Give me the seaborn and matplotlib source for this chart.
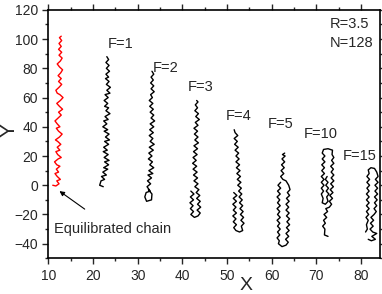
import matplotlib
matplotlib.use("Agg")
import matplotlib.pyplot as plt
from matplotlib.ticker import MultipleLocator
import pandas as pd
import seaborn as sns

# chain conformations, (x, y) per bead
chain_eq = [(11.0, 0), (11.7, -0.5), (12.4, 1), (11.9, 3), (12.7, 4), (12.0, 6), (11.5, 8), (12.3, 9),
            (11.8, 11), (12.6, 13), (11.9, 14), (11.4, 16), (12.2, 18), (12.9, 19), (12.1, 21), (11.7, 23),
            (12.6, 24), (12.0, 26), (12.8, 28), (12.1, 30), (11.6, 31), (12.5, 33), (13.1, 35), (12.3, 37),
            (11.8, 39), (12.6, 40), (12.0, 42), (11.5, 44), (12.2, 46), (12.9, 48), (12.3, 50), (13.2, 52),
            (12.5, 54), (11.9, 56), (12.7, 58), (13.3, 60), (12.6, 62), (12.0, 63), (11.7, 65), (12.4, 67),
            (13.0, 69), (12.3, 71), (12.9, 73), (12.2, 75), (12.8, 77), (13.2, 79), (12.5, 81), (12.0, 83),
            (12.7, 85), (13.1, 87), (12.4, 89), (13.0, 91), (12.3, 93), (12.9, 95), (12.4, 97), (13.0, 99),
            (12.5, 101), (12.9, 102)]
chain_f1 = [(22.3, -1), (21.5, 0), (21.8, 3), (22.6, 4), (21.9, 6), (23.0, 7), (22.2, 9), (23.3, 11),
            (22.4, 12), (23.5, 14), (22.6, 16), (23.6, 17), (22.5, 19), (23.4, 21), (22.3, 23), (23.2, 24),
            (22.4, 26), (23.5, 28), (22.6, 30), (23.7, 31), (22.8, 33), (23.6, 35), (22.5, 37), (23.3, 38),
            (22.2, 40), (23.1, 42), (22.4, 44), (23.4, 45), (22.7, 47), (23.8, 49), (22.9, 51), (23.5, 53),
            (22.6, 54), (23.3, 56), (22.5, 58), (23.4, 60), (22.7, 62), (23.8, 63), (23.1, 65), (23.9, 67),
            (23.0, 69), (23.6, 71), (22.8, 73), (23.5, 74), (22.9, 76), (23.7, 78), (23.0, 80), (23.6, 82),
            (22.9, 84), (23.5, 86), (23.1, 88)]
chain_f2 = [(32.4, -3), (33.2, -6), (33.1, -10), (32.0, -11), (31.6, -8), (31.9, -5), (32.8, -4), (32.1, -1),
            (32.9, 1), (32.2, 3), (33.1, 5), (32.3, 7), (33.4, 8), (32.5, 10), (33.6, 12), (32.7, 14),
            (33.3, 16), (32.4, 18), (33.2, 20), (32.5, 22), (33.5, 24), (32.6, 26), (33.7, 28), (32.8, 30),
            (33.4, 32), (32.6, 34), (33.5, 36), (32.7, 38), (33.6, 40), (32.8, 42), (33.8, 44), (33.0, 46),
            (33.6, 48), (32.8, 50), (33.5, 52), (32.7, 54), (33.4, 56), (32.6, 58), (33.3, 60), (32.9, 62),
            (33.7, 64), (33.0, 66), (33.6, 68), (32.9, 70), (33.5, 72), (33.0, 74), (33.6, 76), (33.2, 78)]
chain_f3 = [(41.9, -4), (42.6, -6), (41.8, -8), (42.5, -10), (41.7, -12), (42.4, -14), (41.8, -16), (42.5, -18),
            (41.9, -20), (42.7, -22), (43.5, -21), (44.0, -19), (43.3, -17), (44.1, -15), (43.4, -13), (44.0, -11),
            (43.2, -9), (43.9, -7), (43.1, -5), (43.7, -3), (42.8, -1), (43.5, 1), (42.6, 3), (43.4, 5),
            (42.5, 7), (43.3, 9), (42.4, 11), (43.2, 13), (42.3, 15), (43.1, 17), (42.4, 19), (43.3, 21),
            (42.5, 23), (43.4, 25), (42.6, 27), (43.6, 29), (42.8, 31), (43.5, 33), (42.7, 35), (43.4, 37),
            (42.6, 39), (43.5, 41), (42.9, 43), (43.8, 45), (43.0, 47), (43.6, 49), (42.8, 51), (43.4, 53),
            (42.9, 55), (43.5, 57), (43.2, 58)]
chain_f4 = [(51.5, -5), (52.2, -7), (51.4, -9), (52.1, -11), (51.3, -13), (52.0, -15), (51.4, -17), (52.1, -19),
            (51.3, -21), (52.0, -23), (51.4, -25), (52.1, -27), (51.5, -29), (52.0, -31), (52.8, -32), (53.5, -31),
            (53.2, -28), (53.8, -26), (53.1, -24), (53.7, -22), (53.0, -20), (53.6, -18), (52.9, -16), (53.5, -14),
            (52.8, -12), (53.4, -10), (52.7, -8), (53.3, -6), (52.6, -4), (53.2, -2), (52.4, 0), (53.1, 2),
            (52.3, 4), (53.0, 6), (52.2, 8), (52.9, 10), (52.1, 12), (52.8, 14), (52.0, 16), (52.7, 18),
            (52.0, 20), (52.6, 22), (51.8, 24), (52.5, 26), (51.7, 28), (52.3, 30), (51.6, 32), (52.4, 34),
            (51.8, 36), (51.6, 38)]
chain_f5 = [(62.0, 2), (61.4, 0), (62.0, -2), (61.3, -4), (61.9, -6), (61.2, -8), (61.8, -10), (61.3, -12),
            (61.9, -14), (61.2, -16), (61.8, -18), (61.3, -20), (61.9, -22), (61.2, -24), (61.8, -26), (61.3, -28),
            (61.9, -30), (61.3, -32), (61.8, -34), (61.2, -36), (61.7, -38), (61.5, -40), (62.3, -42), (63.2, -41),
            (63.7, -39), (63.1, -37), (63.8, -35), (63.2, -33), (63.9, -31), (63.3, -29), (64.0, -27), (63.4, -25),
            (64.0, -23), (63.3, -21), (63.9, -19), (63.2, -17), (63.8, -15), (63.2, -13), (63.9, -11), (63.3, -9),
            (64.0, -7), (63.5, -5), (64.1, -3), (63.8, 0), (63.2, 3), (62.5, 4), (62.0, 6), (62.7, 8),
            (62.1, 10), (62.8, 12), (62.2, 14), (62.9, 16), (62.3, 18), (63.0, 20), (62.4, 21), (62.9, 22)]
chain_f10 = [(72.6, -35), (71.8, -34), (71.9, -30), (71.4, -28), (72.0, -26), (71.6, -24), (72.3, -22), (71.7, -20),
             (72.5, -18), (72.1, -16), (72.9, -15), (73.4, -13), (72.9, -11), (73.6, -9), (73.0, -7), (73.7, -5),
             (73.1, -3), (73.8, -1), (73.2, 1), (73.9, 3), (73.3, 5), (73.9, 7), (73.3, 9), (73.8, 11),
             (73.2, 13), (73.9, 15), (73.4, 17), (73.9, 19), (73.5, 21), (73.6, 24), (72.6, 25), (71.6, 24.5),
             (71.3, 22), (71.9, 20), (71.3, 18), (71.9, 16), (71.2, 14), (71.8, 12), (71.2, 10), (71.8, 8),
             (71.1, 6), (71.7, 4), (71.1, 2), (71.7, 0), (71.1, -2), (71.6, -4), (71.1, -6), (71.5, -9),
             (71.3, -12), (72.0, -13), (72.6, -11), (72.3, -8), (72.8, -6), (72.2, -4), (72.7, -2), (72.1, 0),
             (72.6, 2), (72.0, 4), (72.4, 6)]
chain_f15 = [(81.6, -37), (82.3, -38), (83.2, -37), (82.4, -35), (83.5, -33), (82.6, -32), (82.0, -30), (82.7, -28),
             (82.1, -26), (82.8, -24), (82.2, -22), (82.9, -20), (83.4, -18), (82.9, -16), (83.5, -14), (83.0, -12),
             (83.6, -10), (83.0, -8), (83.7, -6), (83.1, -4), (83.7, -2), (83.1, 0), (83.8, 2), (83.2, 4),
             (83.8, 6), (83.5, 9), (83.0, 11.5), (82.2, 12), (81.6, 10.5), (81.8, 8), (81.3, 6), (81.9, 4),
             (81.3, 2), (81.9, 0), (81.3, -2), (81.8, -4), (81.2, -6), (81.8, -8), (81.2, -10), (81.8, -12),
             (81.2, -14), (81.8, -16), (81.2, -18), (81.7, -20), (81.1, -22), (81.6, -24), (81.2, -27), (81.4, -30),
             (81.0, -32)]

chain_names = ["eq", "F=1", "F=2", "F=3", "F=4", "F=5", "F=10", "F=15"]
chain_data = [chain_eq, chain_f1, chain_f2, chain_f3, chain_f4, chain_f5, chain_f10, chain_f15]
label_pos = {"F=1": (26.1, 96.5), "F=2": (36.3, 80.5), "F=3": (44.0, 67), "F=4": (52.7, 47.5),
             "F=5": (61.9, 42), "F=10": (71.0, 35), "F=15": (79.7, 20)}

rows = []
for name, pts in zip(chain_names, chain_data):
    for i, (x, y) in enumerate(pts):
        rows.append({"chain": name, "bead": i, "x": x, "y": y})
df = pd.DataFrame(rows)

sns.set_style("ticks")
plt.rcParams["font.family"] = ["Liberation Sans", "DejaVu Sans"]

fig = plt.figure(figsize=(3.82, 2.94), dpi=100)
ax = fig.add_axes([0.1264, 0.1214, 0.868, 0.845])

palette = {n: "black" for n in chain_names}
palette["eq"] = "red"
sns.lineplot(data=df, x="x", y="y", hue="chain", units="chain", estimator=None,
             sort=False, palette=palette, linewidth=1.0, legend=False, ax=ax)

for name, (lx, ly) in label_pos.items():
    ax.text(lx, ly, name, fontsize=10.5, ha="center", va="center")

ax.text(72.9, 110, "R=3.5", fontsize=10.5, ha="left", va="center")
ax.text(72.9, 97.5, "N=128", fontsize=10.5, ha="left", va="center")
ax.annotate("Equilibrated chain", xy=(12.5, -4), xytext=(11.3, -30), fontsize=10.5,
            ha="left", va="center",
            arrowprops=dict(arrowstyle="-|>", color="black", lw=0.8, shrinkA=12, shrinkB=0,
                            mutation_scale=7))

ax.set_xlim(10, 84.2)
ax.set_ylim(-50, 120)
ax.xaxis.set_major_locator(MultipleLocator(10))
ax.xaxis.set_minor_locator(MultipleLocator(5))
ax.yaxis.set_major_locator(MultipleLocator(20))
ax.yaxis.set_minor_locator(MultipleLocator(10))
ax.tick_params(which="both", direction="out", top=True, right=True, labelsize=10, width=1)
ax.tick_params(which="major", length=4)
ax.tick_params(which="minor", length=2.5)
for s in ax.spines.values():
    s.set_linewidth(1.2)
    s.set_color("black")

ax.set_xlabel("X", fontsize=14, va="top")
ax.set_ylabel("Y", fontsize=15, va="center")
ax.xaxis.set_label_coords(0.596, -0.075)
ax.yaxis.set_label_coords(-0.118, 0.517)

fig.savefig("out.png", dpi=100)
